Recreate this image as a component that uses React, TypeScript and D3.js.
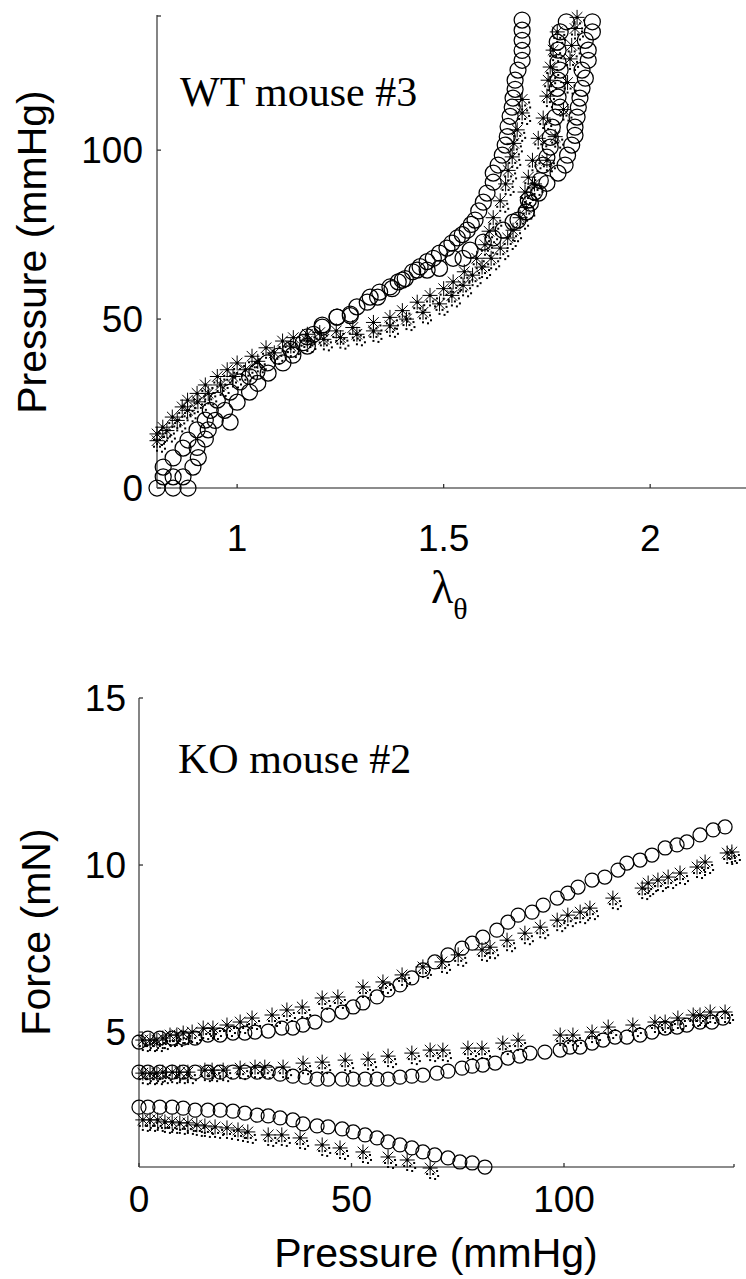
import React from "react";
import { scaleLinear } from "d3";

// WT mouse #3 : circumferential stretch (lambda_theta) vs pressure (mmHg)
const wtCircleLeft = [
  [0.806, 0], [0.821, 3.3], [0.821, 6.2], [0.845, 8.9], [0.869, 11.8], [0.881, 14.2],
  [0.903, 17.2], [0.923, 20.1], [0.935, 23], [0.952, 26], [0.983, 28.4], [1.007, 31.4],
  [1.03, 33], [1.048, 34.5], [1.073, 37], [1.1, 39], [1.13, 41], [1.16, 43], [1.185, 45.5],
  [1.206, 48.2], [1.242, 50.6], [1.274, 51.5], [1.29, 53.6], [1.322, 56.5], [1.345, 58],
  [1.37, 59.5], [1.39, 61], [1.407, 62], [1.425, 64], [1.443, 65.5], [1.46, 67], [1.475, 68],
  [1.49, 69.5], [1.508, 71], [1.52, 72.5], [1.533, 74], [1.545, 75], [1.557, 76.3], [1.567, 78],
  [1.576, 79.3], [1.585, 82], [1.596, 84.6], [1.605, 87.3], [1.62, 90.5], [1.62, 93.2],
  [1.632, 95.6], [1.642, 98.5], [1.649, 101.5], [1.654, 104], [1.656, 107], [1.661, 110],
  [1.666, 112.7], [1.668, 115.4], [1.673, 118], [1.673, 120.7], [1.68, 123.7], [1.69, 126.6],
  [1.69, 129.5], [1.69, 132.5], [1.69, 135.5], [1.69, 138.5],
];
const wtCircleRight = [
  [0.845, 0], [0.881, 0], [0.845, 3.3], [0.869, 3.3], [0.893, 6.2], [0.906, 9], [0.903, 12],
  [0.923, 14.5], [0.93, 17.2], [0.947, 20], [0.983, 19.5], [0.97, 23], [1.0, 25.4], [1.03, 28.4],
  [1.05, 31], [1.075, 34], [1.111, 37], [1.135, 39.3], [1.17, 42], [1.17, 44.7], [1.206, 47.6],
  [1.242, 50.6], [1.274, 51], [1.315, 55], [1.34, 56.5], [1.375, 59], [1.4, 61.5], [1.436, 64.5],
  [1.46, 64.5], [1.49, 65], [1.523, 68], [1.547, 68], [1.564, 70.4], [1.596, 72.8], [1.62, 74],
  [1.644, 76.3], [1.668, 78.7], [1.7, 81.7], [1.71, 84.3], [1.73, 87.3], [1.75, 90.2],
  [1.777, 93.2], [1.794, 95.6], [1.8, 98.5], [1.81, 101.5], [1.818, 104.4], [1.818, 106.8],
  [1.823, 109.8], [1.826, 112.7], [1.83, 115.4], [1.835, 118.3], [1.843, 121.3], [1.835, 123.7],
  [1.85, 126.6], [1.85, 129.6], [1.843, 132.5], [1.86, 135], [1.86, 138],
];
const wtCircleMid = [
  [1.68, 79.3], [1.7, 81.7], [1.705, 85.2], [1.72, 87.6], [1.734, 91], [1.741, 95.6],
  [1.75, 97.9], [1.758, 100.9], [1.758, 103.8], [1.763, 106.8], [1.77, 109.8], [1.782, 112.7],
  [1.777, 115.7], [1.775, 118.3], [1.777, 120.7], [1.782, 123.7], [1.777, 126], [1.777, 129.6],
  [1.775, 132], [1.782, 135], [1.797, 138],
];
const wtStarLeft = [
  [0.806, 16], [0.82, 18], [0.843, 21], [0.867, 24], [0.88, 26], [0.903, 28], [0.923, 30.5],
  [0.952, 33], [0.976, 35], [1.0, 37], [1.036, 39], [1.07, 41.5], [1.11, 43.5], [1.136, 44.5],
  [1.17, 45.5], [1.2, 46], [1.24, 46.5], [1.28, 47.5], [1.33, 49], [1.37, 50.5], [1.4, 52.5],
  [1.436, 55], [1.467, 57], [1.5, 59], [1.523, 61], [1.55, 64], [1.58, 68], [1.6, 72],
  [1.61, 76], [1.62, 80], [1.637, 85], [1.65, 90], [1.656, 94], [1.666, 98], [1.67, 102],
  [1.678, 106], [1.69, 111], [1.69, 115],
];
const wtStarRight = [
  [0.806, 14], [0.83, 17], [0.855, 20], [0.88, 23], [0.905, 25.5], [0.93, 28], [0.96, 30.5],
  [0.99, 33], [1.02, 35], [1.05, 37.5], [1.09, 40], [1.13, 42], [1.17, 43.5], [1.21, 44],
  [1.25, 44.5], [1.29, 45.5], [1.33, 46.5], [1.37, 48], [1.41, 50], [1.45, 52], [1.49, 54.5],
  [1.52, 57], [1.547, 60], [1.57, 63], [1.593, 65.4], [1.615, 68], [1.637, 71], [1.655, 74],
  [1.668, 76.3], [1.685, 80], [1.7, 83], [1.697, 87.6], [1.705, 92], [1.715, 97], [1.729, 103.5],
  [1.741, 109.5], [1.75, 116], [1.753, 120.7], [1.758, 124.6], [1.765, 129.6], [1.775, 135],
  [1.823, 139.3],
];
const wtStarOuter = [
  [1.72, 90], [1.75, 97], [1.77, 104], [1.79, 112], [1.8, 120], [1.806, 127], [1.81, 131],
  [1.818, 136],
];

// KO mouse #2 : pressure (mmHg) vs force (mN)
const koCircleUpper = [
  [0, 4.7], [2.1, 4.82], [4.9, 4.82], [7.8, 4.82], [10.4, 4.82], [13.2, 4.82], [16.2, 4.91],
  [19.1, 4.91], [22.1, 4.97], [24.9, 4.97], [27.3, 5.0], [30.4, 5.03], [33.6, 5.12], [36.2, 5.12],
  [38.6, 5.21], [41.4, 5.3], [44.5, 5.51], [47.8, 5.6], [50.4, 5.75], [52.7, 5.87], [56.0, 6.05],
  [58.6, 6.26], [61.4, 6.41], [64.2, 6.62], [66.8, 6.86], [69.6, 7.1], [72.7, 7.31], [76.0, 7.51],
  [78.4, 7.66], [80.9, 7.84], [84.2, 8.05], [86.8, 8.29], [89.2, 8.5], [92.5, 8.59], [95.1, 8.8],
  [98.4, 9.01], [100.9, 9.16], [103.3, 9.34], [106.6, 9.55], [109.6, 9.64], [112.7, 9.85],
  [114.8, 10.06], [117.9, 10.15], [120.7, 10.3], [123.8, 10.51], [126.6, 10.6], [128.9, 10.69],
  [132.0, 10.9], [135.1, 11.05], [137.9, 11.14],
];
const koStarUpper = [
  [0.9, 4.76], [2.6, 4.76], [4.2, 4.76], [5.6, 4.82], [7.3, 4.91], [8.9, 4.91], [10.4, 4.97],
  [12.5, 5.0], [15.1, 5.12], [17.4, 5.12], [20.7, 5.21], [23.8, 5.3], [26.6, 5.42], [31.3, 5.51],
  [34.8, 5.66], [38.4, 5.75], [43.1, 6.02], [46.8, 6.05], [52.7, 6.35], [57.4, 6.5], [61.9, 6.71],
  [66.8, 6.95], [71.3, 7.1], [75.1, 7.31], [80.7, 7.46], [82.6, 7.54], [86.6, 7.75], [90.8, 7.96],
  [94.4, 8.14], [98.4, 8.35], [100.9, 8.5], [103.8, 8.59], [106.1, 8.71], [111.5, 9.01],
  [118.4, 9.31], [119.8, 9.46], [122.1, 9.55], [124.5, 9.64], [127.3, 9.76], [131.3, 9.94],
  [133.2, 10.09], [138.4, 10.36], [139.5, 10.39],
];
const koCircleMid = [
  [0, 3.8], [2.1, 3.8], [4.9, 3.8], [7.8, 3.8], [10.4, 3.8], [13.2, 3.8], [16.2, 3.8], [19.1, 3.8],
  [22.1, 3.8], [24.9, 3.8], [27.8, 3.8], [30.4, 3.8], [33.2, 3.74], [36.2, 3.68], [39.1, 3.65],
  [41.9, 3.59], [44.5, 3.59], [47.8, 3.59], [50.4, 3.59], [53.2, 3.59], [56.0, 3.59], [58.6, 3.59],
  [61.4, 3.65], [64.2, 3.68], [66.8, 3.71], [70.1, 3.77], [72.7, 3.83], [76.0, 3.92], [78.4, 3.98],
  [80.9, 4.01], [83.8, 4.07], [86.8, 4.22], [89.6, 4.28], [92.0, 4.37], [95.5, 4.4], [99.1, 4.46],
  [101.4, 4.55], [103.8, 4.55], [106.6, 4.67], [109.2, 4.76], [112.0, 4.85], [114.8, 4.85],
  [117.9, 4.91], [120.7, 5.0], [123.8, 5.12], [126.6, 5.15], [128.9, 5.21], [132.0, 5.3],
  [134.8, 5.3], [137.4, 5.42],
];
const koStarMid = [
  [0.9, 3.77], [2.6, 3.77], [4.2, 3.77], [5.6, 3.8], [7.8, 3.8], [9.6, 3.8], [11.5, 3.8],
  [15.5, 3.86], [17.2, 3.86], [19.8, 3.86], [23.8, 3.92], [27.3, 3.95], [29.6, 3.95], [33.9, 3.95],
  [38.6, 4.07], [43.1, 4.1], [48.5, 4.16], [53.9, 4.19], [58.6, 4.28], [64.2, 4.37], [68.5, 4.46],
  [71.5, 4.46], [77.4, 4.52], [80.7, 4.52], [85.6, 4.67], [89.2, 4.76], [99.1, 4.91], [102.1, 4.91],
  [106.6, 5.0], [110.4, 5.15], [116.2, 5.21], [121.4, 5.3], [123.8, 5.3], [126.8, 5.42],
  [130.4, 5.51], [132.0, 5.51], [134.4, 5.6], [137.9, 5.6],
];
const koCircleLower = [
  [0, 2.75], [2.1, 2.75], [4.9, 2.75], [7.8, 2.75], [10.4, 2.72], [13.2, 2.66], [16.2, 2.66],
  [19.1, 2.66], [22.1, 2.63], [24.9, 2.57], [27.8, 2.51], [30.4, 2.49], [33.2, 2.43], [36.2, 2.37],
  [38.6, 2.25], [41.9, 2.19], [44.5, 2.16], [47.8, 2.1], [50.4, 2.01], [53.2, 1.92], [56.0, 1.83],
  [58.6, 1.71], [61.4, 1.62], [64.2, 1.53], [66.8, 1.41], [69.6, 1.32], [72.7, 1.23], [75.5, 1.11],
  [78.4, 1.08], [81.4, 0.96],
];
const koStarLower = [
  [0.9, 2.37], [2.6, 2.37], [4.4, 2.37], [6.1, 2.31], [7.8, 2.31], [9.6, 2.28], [11.5, 2.28],
  [13.6, 2.22], [15.5, 2.19], [17.9, 2.16], [20.7, 2.13], [23.3, 2.07], [25.6, 2.01], [30.4, 1.92],
  [33.6, 1.92], [37.9, 1.83], [43.1, 1.62], [47.3, 1.53], [52.7, 1.41], [58.6, 1.26], [63.1, 1.17],
  [68.5, 0.93],
];

const topXTicks = [1, 1.5, 2];
const topYTicks = [0, 50, 100];
const botXTicks = [0, 50, 100];
const botYTicks = [5, 10, 15];

const topX = scaleLinear().domain([0.806, 2.232]).range([157, 746]);
const topY = scaleLinear().domain([0, 140]).range([488, 15]);
const botX = scaleLinear().domain([0, 140]).range([139, 734]);
const botY = scaleLinear().domain([0.96, 15]).range([1167, 698]);

const sans = "'Liberation Sans', Arial, sans-serif";
const serif = "'Liberation Serif', 'Times New Roman', serif";
const axisColor = "#666";

// little dots that sit under each asterisk marker
const dotOffsets = [[-3, 6], [3, 6], [7, 3], [8, 8], [0, 10], [5, 11]];

function Star({ x, y }: { x: number; y: number }) {
  const r = 7.5;
  const d = 5.3;
  return (
    <g>
      <path
        d={`M${x - r},${y}H${x + r}M${x},${y - r}V${y + r}M${x - d},${y - d}L${x + d},${y + d}M${x - d},${y + d}L${x + d},${y - d}`}
        stroke="#000"
        strokeWidth={1}
        fill="none"
      />
      <circle cx={x} cy={y} r={1.6} fill="#000" />
      {dotOffsets.map(([dx, dy], i) => (
        <rect key={i} x={x + dx - 1} y={y + dy - 1} width={2} height={2} fill="#000" />
      ))}
    </g>
  );
}

function Circles({ pts, sx, sy, r }: any) {
  return (
    <g fill="none" stroke="#000" strokeWidth={1.25}>
      {pts.map((p: number[], i: number) => (
        <circle key={i} cx={sx(p[0])} cy={sy(p[1])} r={r} />
      ))}
    </g>
  );
}

function Stars({ pts, sx, sy }: any) {
  return (
    <g>
      {pts.map((p: number[], i: number) => (
        <Star key={i} x={sx(p[0])} y={sy(p[1])} />
      ))}
    </g>
  );
}

export default function App() {
  const tx0 = topX.range()[0];
  const ty0 = topY.range()[0];
  const bx0 = botX.range()[0];
  const by0 = botY.range()[0];

  return (
    <svg
      width={746}
      height={1279}
      style={{ position: "absolute", left: 0, top: 0, background: "#fff" }}
    >
      {/* ---------- top panel ---------- */}
      <g>
        <line x1={tx0} x2={tx0} y1={topY.range()[1]} y2={ty0} stroke={axisColor} strokeWidth={1.6} />
        <line x1={tx0} x2={746} y1={ty0} y2={ty0} stroke={axisColor} strokeWidth={1.6} />
        <line x1={tx0} x2={tx0 + 4} y1={topY.range()[1] + 1} y2={topY.range()[1] + 1} stroke="#333" strokeWidth={1.3} />
        {topYTicks.map((t) => (
          <g key={t}>
            <line x1={tx0} x2={tx0 + 4} y1={topY(t)} y2={topY(t)} stroke="#333" strokeWidth={1.3} />
            <text x={143} y={topY(t)} dy="0.36em" textAnchor="end" fontFamily={sans} fontSize={37}>
              {t}
            </text>
          </g>
        ))}
        {topXTicks.map((t) => (
          <g key={t}>
            <line x1={topX(t)} x2={topX(t)} y1={ty0} y2={ty0 - 4} stroke="#333" strokeWidth={1.3} />
            <text x={topX(t)} y={538} dy="0.36em" textAnchor="middle" fontFamily={sans} fontSize={37}>
              {t}
            </text>
          </g>
        ))}
        <text transform="translate(46,252) rotate(-90)" textAnchor="middle" fontFamily={sans} fontSize={41}>
          Pressure (mmHg)
        </text>
        <text x={431} y={603} fontFamily={serif} fontSize={46}>
          λ
          <tspan fontSize={30} dy={16}>θ</tspan>
        </text>
        <text x={180} y={106} fontFamily={serif} fontSize={42}>
          WT mouse #3
        </text>

        <Stars pts={wtStarLeft} sx={topX} sy={topY} />
        <Stars pts={wtStarRight} sx={topX} sy={topY} />
        <Stars pts={wtStarOuter} sx={topX} sy={topY} />
        <Circles pts={wtCircleLeft} sx={topX} sy={topY} r={8} />
        <Circles pts={wtCircleRight} sx={topX} sy={topY} r={8} />
        <Circles pts={wtCircleMid} sx={topX} sy={topY} r={8} />
      </g>

      {/* ---------- bottom panel ---------- */}
      <g>
        <line x1={bx0} x2={bx0} y1={botY.range()[1]} y2={by0} stroke={axisColor} strokeWidth={1.6} />
        <line x1={bx0} x2={botX.range()[1]} y1={by0} y2={by0} stroke={axisColor} strokeWidth={1.6} />
        <line x1={botX.range()[1]} x2={botX.range()[1]} y1={by0} y2={by0 - 3} stroke="#333" strokeWidth={1.3} />
        {botYTicks.map((t) => (
          <g key={t}>
            <line x1={bx0} x2={bx0 + 4} y1={botY(t)} y2={botY(t)} stroke="#333" strokeWidth={1.3} />
            <text x={126} y={botY(t)} dy="0.36em" textAnchor="end" fontFamily={sans} fontSize={37}>
              {t}
            </text>
          </g>
        ))}
        {botXTicks.map((t) => (
          <g key={t}>
            <line x1={botX(t)} x2={botX(t)} y1={by0} y2={by0 - 4} stroke="#333" strokeWidth={1.3} />
            <text x={botX(t)} y={1199} dy="0.36em" textAnchor="middle" fontFamily={sans} fontSize={37}>
              {t}
            </text>
          </g>
        ))}
        <text transform="translate(50,932) rotate(-90)" textAnchor="middle" fontFamily={sans} fontSize={41}>
          Force (mN)
        </text>
        <text x={436} y={1267} textAnchor="middle" fontFamily={sans} fontSize={41}>
          Pressure (mmHg)
        </text>
        <text x={178} y={773} fontFamily={serif} fontSize={42}>
          KO mouse #2
        </text>

        <Stars pts={koStarUpper} sx={botX} sy={botY} />
        <Stars pts={koStarMid} sx={botX} sy={botY} />
        <Stars pts={koStarLower} sx={botX} sy={botY} />
        <Circles pts={koCircleUpper} sx={botX} sy={botY} r={7} />
        <Circles pts={koCircleMid} sx={botX} sy={botY} r={7} />
        <Circles pts={koCircleLower} sx={botX} sy={botY} r={7} />
      </g>
    </svg>
  );
}
